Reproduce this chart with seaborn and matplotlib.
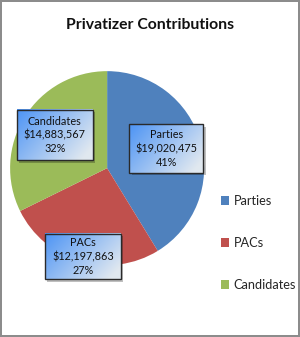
import matplotlib
matplotlib.use("Agg")
import matplotlib.pyplot as plt
import seaborn as sns
import numpy as np
from matplotlib.patches import Patch, Rectangle

categories = ["Parties", "PACs", "Candidates"]
amounts = [19020475, 12197863, 14883567]
percents = ["41%", "27%", "32%"]
colors = ["#4f81bd", "#c0504d", "#9bbb59"]

sns.set_theme(style="white")
plt.rcParams["font.family"] = ["Lato", "DejaVu Sans"]

fig = plt.figure(figsize=(3.0, 3.37), dpi=100)
fig.patch.set_edgecolor("#8c8c8c")
fig.patch.set_linewidth(1.5)

ax = fig.add_axes([0.357 - 0.3233, 0.501 - 0.2878, 0.6467, 0.5757])
ax.pie(amounts, colors=colors, startangle=90, counterclock=False, radius=1,
       wedgeprops=dict(linewidth=0))

# gradient fill for the label boxes
n = 64
gx, gy = np.meshgrid(np.linspace(0, 1, n), np.linspace(0, 1, n))
t = np.clip(0.7 * gx + 0.4 * (1 - gy), 0, 1)[..., None]
c0 = np.array([0.30, 0.58, 0.96])
c1 = np.array([0.88, 0.91, 0.94])
grad = c0 * (1 - t) + c1 * t

# (center x, center y, width, height) in pie data units
box_geom = [(0.61, 0.20, 0.76, 0.50), (-0.25, -0.91, 0.78, 0.47), (-0.54, 0.34, 0.78, 0.52)]
for cat, amt, pct, (cx, cy, w, h) in zip(categories, amounts, percents, box_geom):
    x0, x1, y0, y1 = cx - w / 2, cx + w / 2, cy - h / 2, cy + h / 2
    ax.add_patch(Rectangle((x0 + 0.025, y0 - 0.025), w, h, facecolor="#000000",
                           alpha=0.25, edgecolor="none", zorder=3, clip_on=False))
    im = ax.imshow(grad, extent=[x0, x1, y0, y1], origin="lower", aspect="auto",
                   zorder=4, interpolation="bilinear")
    im.set_clip_on(False)
    ax.add_patch(Rectangle((x0, y0), w, h, facecolor="none", edgecolor="#2a2a2a",
                           linewidth=1.0, zorder=5, clip_on=False))
    ax.text(cx, cy, f"{cat}\n${amt:,}\n{pct}", ha="center", va="center",
            fontsize=7.8, color="#111111", linespacing=1.3, zorder=6)

ax.set_xlim(-1, 1)
ax.set_ylim(-1, 1)
ax.set_aspect("equal")
ax.axis("off")

fig.text(0.5, 1 - 25 / 337, "Privatizer Contributions", ha="center", va="center",
         fontsize=11.3, fontweight="bold", color="#111111")

handles = [Patch(facecolor=c, edgecolor="none") for c in colors]
fig.legend(handles, categories, loc="center left",
           bbox_to_anchor=(212 / 300, 1 - 243 / 337), frameon=False,
           fontsize=9.2, labelspacing=2.35, handlelength=0.65, handleheight=0.65,
           handletextpad=0.35, borderpad=0.2)

fig.savefig("out.png", dpi=100)
